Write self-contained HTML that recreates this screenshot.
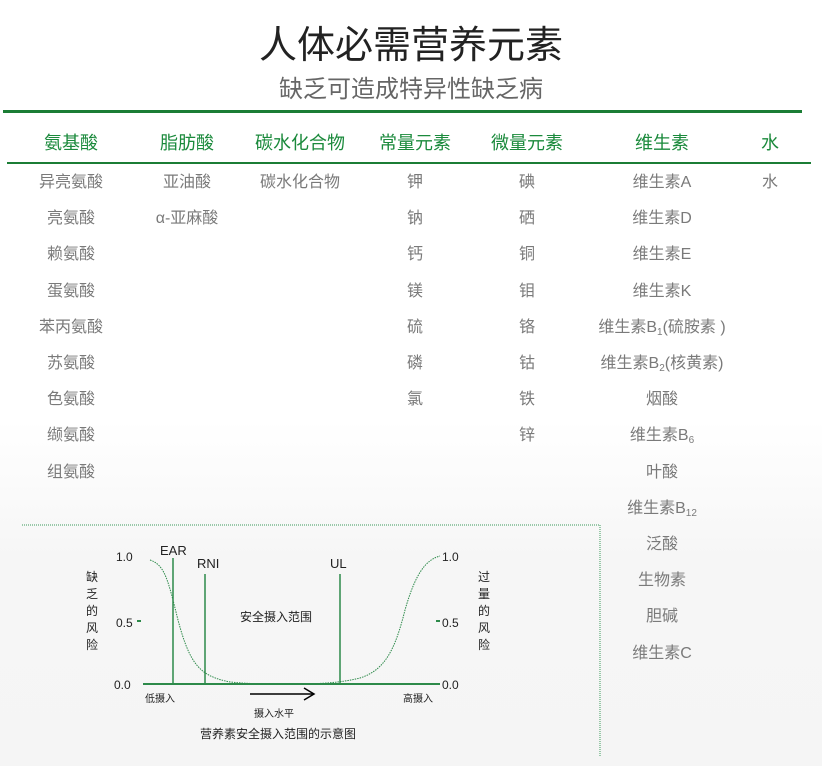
<!DOCTYPE html>
<html><head><meta charset="utf-8"><style>
body{margin:0;width:822px;height:766px;overflow:hidden;background:linear-gradient(#fff 0,#fff 420px,#f6f6f6 560px,#f5f5f5 766px);font-family:"Liberation Sans","Noto Sans CJK SC",sans-serif;position:relative}
.a{position:absolute;white-space:nowrap;transform:translateX(-50%)}
.h{color:#1b8a3c;font-size:18px;top:129px}
.c{color:#7a7a7a;font-size:16px}
sub{font-size:10px;vertical-align:-3px}
</style></head><body>
<div class="a" style="left:411px;top:14px;font-size:38px;color:#222">人体必需营养元素</div>
<div class="a" style="left:411px;top:69px;font-size:24px;color:#666">缺乏可造成特异性缺乏病</div>
<div style="position:absolute;left:3px;top:110px;width:799px;height:3px;background:#1b7d35"></div>
<div style="position:absolute;left:7px;top:162px;width:804px;height:2px;background:#1b7d35"></div>
<div class="a h" style="left:71px">氨基酸</div>
<div class="a h" style="left:187px">脂肪酸</div>
<div class="a h" style="left:300px">碳水化合物</div>
<div class="a h" style="left:415px">常量元素</div>
<div class="a h" style="left:527px">微量元素</div>
<div class="a h" style="left:662px">维生素</div>
<div class="a h" style="left:770px">水</div>
<div id="rows"></div>
<script>
var cols=[[71,["异亮氨酸","亮氨酸","赖氨酸","蛋氨酸","苯丙氨酸","苏氨酸","色氨酸","缬氨酸","组氨酸"]],[187,["亚油酸","α-亚麻酸"]],[300,["碳水化合物"]],[415,["钾","钠","钙","镁","硫","磷","氯"]],[527,["碘","硒","铜","钼","铬","钴","铁","锌"]],[662,["维生素A","维生素D","维生素E","维生素K","维生素B<sub>1</sub>(硫胺素 )","维生素B<sub>2</sub>(核黄素)","烟酸","维生素B<sub>6</sub>","叶酸","维生素B<sub>12</sub>","泛酸","生物素","胆碱","维生素C"]],[770,["水"]]];
var h="";cols.forEach(function(c){c[1].forEach(function(t,i){h+='<div class="a c" style="left:'+c[0]+'px;top:'+(168+i*36.2)+'px">'+t+'</div>'})});
document.getElementById("rows").innerHTML=h;
</script>
<svg style="position:absolute;left:0;top:0" width="822" height="766">
<line x1="22" y1="525" x2="600" y2="525" stroke="#3a9a5a" stroke-dasharray="1,1"/>
<line x1="600" y1="525" x2="600" y2="756" stroke="#3a9a5a" stroke-dasharray="1,1"/>
<line x1="143" y1="684" x2="440" y2="684" stroke="#2d8a4a" stroke-width="2"/>
<line x1="173" y1="558" x2="173" y2="684" stroke="#2d8a4a" stroke-width="1.5"/>
<line x1="205" y1="574" x2="205" y2="684" stroke="#2d8a4a" stroke-width="1.5"/>
<line x1="340" y1="574" x2="340" y2="684" stroke="#2d8a4a" stroke-width="1.5"/>
<path d="M150,560 C165,565 168,580 178,620 C190,665 200,676 230,682 C260,685 290,684 310,684" fill="none" stroke="#2d8a4a" stroke-dasharray="1.5,1" stroke-width="1"/>
<path d="M290,684 C320,684 340,683 360,678 C385,670 395,650 405,610 C415,575 425,560 440,556" fill="none" stroke="#2d8a4a" stroke-dasharray="1.5,1" stroke-width="1"/>
<line x1="137" y1="621" x2="141" y2="621" stroke="#2d8a4a" stroke-width="2"/>
<line x1="436" y1="621" x2="440" y2="621" stroke="#2d8a4a" stroke-width="2"/>
<line x1="250" y1="694" x2="313" y2="694" stroke="#000" stroke-width="1.5"/>
<path d="M304,688 L314,694 L304,700" fill="none" stroke="#000" stroke-width="1.5"/>
<g font-family="Liberation Sans,Noto Sans CJK SC,sans-serif" fill="#222" font-size="12">
<text x="116" y="561">1.0</text><text x="116" y="627">0.5</text><text x="114" y="689">0.0</text>
<text x="442" y="561">1.0</text><text x="442" y="627">0.5</text><text x="442" y="689">0.0</text>
<text x="160" y="555" font-size="13">EAR</text><text x="197" y="568" font-size="13">RNI</text><text x="330" y="568" font-size="13">UL</text>
<text x="240" y="621" font-size="12">安全摄入范围</text>
<text x="145" y="702" font-size="10">低摄入</text><text x="403" y="702" font-size="10">高摄入</text>
<text x="254" y="717" font-size="10">摄入水平</text>
<text x="200" y="738" font-size="12">营养素安全摄入范围的示意图</text>
<text x="86" y="581" font-size="12">缺</text><text x="86" y="598" font-size="12">乏</text><text x="86" y="615" font-size="12">的</text><text x="86" y="632" font-size="12">风</text><text x="86" y="649" font-size="12">险</text>
<text x="478" y="581" font-size="12">过</text><text x="478" y="598" font-size="12">量</text><text x="478" y="615" font-size="12">的</text><text x="478" y="632" font-size="12">风</text><text x="478" y="649" font-size="12">险</text>
</g></svg>
</body></html>
